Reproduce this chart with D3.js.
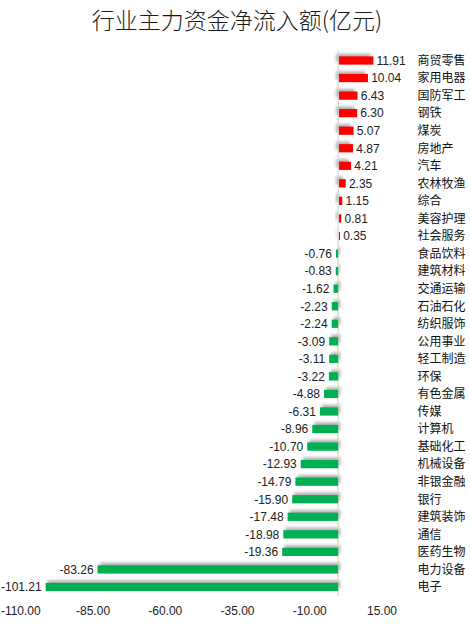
<!DOCTYPE html>
<html>
<head>
<meta charset="utf-8">
<script src="https://cdn.jsdelivr.net/npm/d3@7"></script>
<style>
  html, body { margin: 0; padding: 0; background: #fff; }
  svg { display: block; }
</style>
</head>
<body>
<svg id="chart" width="470" height="624"></svg>
<script>
const categories = ["商贸零售","家用电器","国防军工","钢铁","煤炭","房地产","汽车","农林牧渔","综合","美容护理","社会服务","食品饮料","建筑材料","交通运输","石油石化","纺织服饰","公用事业","轻工制造","环保","有色金属","传媒","计算机","基础化工","机械设备","非银金融","银行","建筑装饰","通信","医药生物","电力设备","电子"];
const values = [11.91,10.04,6.43,6.30,5.07,4.87,4.21,2.35,1.15,0.81,0.35,-0.76,-0.83,-1.62,-2.23,-2.24,-3.09,-3.11,-3.22,-4.88,-6.31,-8.96,-10.70,-12.93,-14.79,-15.90,-17.48,-18.98,-19.36,-83.26,-101.21];
const tickValues = [-110, -85, -60, -35, -10, 15];
const title = "行业主力资金净流入额(亿元)";

const data = categories.map((c, i) => ({ cat: c, val: values[i] }));

const svg = d3.select("#chart");
const cjk = "'Noto Sans CJK SC', 'Noto Sans', sans-serif";
const num = "'Liberation Sans', 'Noto Sans', Arial, sans-serif";

const x = d3.scaleLinear().domain([-110, 15]).range([20.3, 381.5]);
const y = d3.scaleBand().domain(categories).range([47.6, 599.9]).paddingInner(0.53).paddingOuter(0.5);

const defs = svg.append("defs");
const f = defs.append("filter").attr("id", "sh").attr("x", "-20%").attr("y", "-100%").attr("width", "140%").attr("height", "300%");
f.append("feGaussianBlur").attr("stdDeviation", 1.4);

// title
svg.append("text")
  .attr("x", 237).attr("y", 29)
  .attr("text-anchor", "middle")
  .attr("font-family", cjk)
  .attr("font-size", 23)
  .attr("font-weight", 300)
  .attr("fill", "#1a1a1a")
  .text(title);

// shadows
svg.append("g").selectAll("rect").data(data).join("rect")
  .attr("x", d => Math.min(x(0), x(d.val)) + (d.val >= 0 ? -2 : 2))
  .attr("y", d => y(d.cat) - 2.5)
  .attr("width", d => Math.abs(x(d.val) - x(0)))
  .attr("height", y.bandwidth())
  .attr("fill", "#8c8c8c")
  .attr("opacity", 0.7)
  .attr("filter", "url(#sh)");

// zero line
svg.append("line")
  .attr("x1", x(0)).attr("x2", x(0))
  .attr("y1", 50).attr("y2", 596)
  .attr("stroke", "#d0d0d0").attr("stroke-width", 1);

// bars
svg.append("g").selectAll("rect").data(data).join("rect")
  .attr("x", d => Math.min(x(0), x(d.val)) + (d.val >= 0 ? 0.8 : 0))
  .attr("y", d => y(d.cat))
  .attr("width", d => Math.abs(x(d.val) - x(0)))
  .attr("height", y.bandwidth())
  .attr("fill", d => d.val >= 0 ? "#ff0000" : "#00b050");

// value labels
svg.append("g").selectAll("text").data(data).join("text")
  .attr("x", d => d.val >= 0 ? x(d.val) + 4 : x(d.val) - 4)
  .attr("y", d => y(d.cat) + y.bandwidth() / 2)
  .attr("dy", "0.36em")
  .attr("text-anchor", d => d.val >= 0 ? "start" : "end")
  .attr("font-family", num)
  .attr("font-size", 12)
  .attr("fill", "#222")
  .text(d => d.val.toFixed(2));

// category labels
svg.append("g").selectAll("text").data(data).join("text")
  .attr("x", 417.5)
  .attr("y", d => y(d.cat) + y.bandwidth() / 2)
  .attr("dy", "0.36em")
  .attr("font-family", cjk)
  .attr("font-size", 12)
  .attr("fill", "#111")
  .text(d => d.cat);

// x axis
const axis = d3.axisBottom(x).tickValues(tickValues).tickFormat(d => d.toFixed(2)).tickSize(0).tickPadding(0);
const ax = svg.append("g").attr("transform", "translate(0,606)").call(axis);
ax.select(".domain").remove();
ax.selectAll("text")
  .attr("font-family", num)
  .attr("font-size", 12)
  .attr("fill", "#222")
  .attr("dy", "0.71em");
</script>
</body>
</html>
